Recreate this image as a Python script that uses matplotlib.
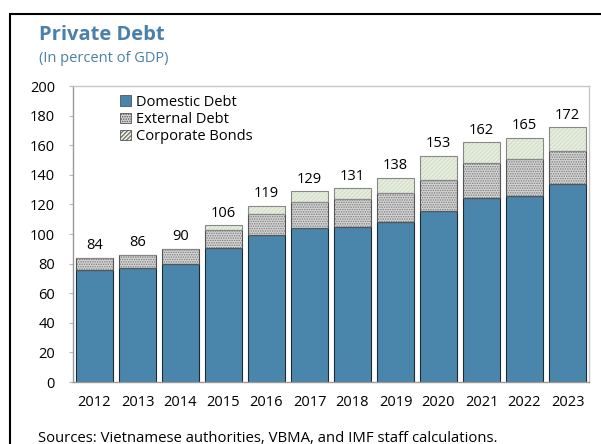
import numpy as np
import matplotlib.pyplot as plt
from matplotlib.patches import Rectangle

plt.rcParams['font.family'] = ['Open Sans', 'DejaVu Sans']
plt.rcParams['hatch.linewidth'] = 0.7

years = ['2012', '2013', '2014', '2015', '2016', '2017',
         '2018', '2019', '2020', '2021', '2022', '2023']
domestic = [75.7, 77.0, 80.0, 90.5, 99.3, 103.8, 105.0, 108.3, 115.5, 124.3, 125.7, 133.8]
external = [8.3, 9.0, 10.0, 12.2, 14.2, 18.0, 18.4, 19.6, 21.0, 23.7, 25.0, 22.2]
bonds = [0.0, 0.0, 0.0, 3.3, 5.5, 7.2, 7.6, 10.1, 16.5, 14.0, 14.3, 16.0]
totals = [84, 86, 90, 106, 119, 129, 131, 138, 153, 162, 165, 172]

blue = '#4a86ab'
title_blue = '#4a80aa'

fig = plt.figure(figsize=(6.01, 4.44), dpi=100)
ax = fig.add_axes([73 / 601, 1 - 382 / 444, 516 / 601, 296 / 444])

x = np.arange(len(years))
w = 0.84
dom = np.array(domestic)
ext = np.array(external)
bnd = np.array(bonds)

ax.bar(x, dom, w, color=blue, linewidth=0, label='Domestic Debt')
ax.bar(x, ext, w, bottom=dom, color='#d4d4d4', edgecolor='#7a7a7a',
       hatch='.......', linewidth=0, label='External Debt')
ax.bar(x, bnd, w, bottom=dom + ext, color='#e6eedd', edgecolor='#d2dbc8',
       hatch='////////', linewidth=0, label='Corporate Bonds')
# segment outlines
ax.bar(x, dom, w, fill=False, edgecolor='#1d2b36', linewidth=0.8)
ax.bar(x, ext, w, bottom=dom, fill=False, edgecolor='#555555', linewidth=0.8)
ax.bar(x, bnd, w, bottom=dom + ext, fill=False, edgecolor='#888888',
       linewidth=0.8)

for xi, t in zip(x, totals):
    ax.text(xi, t + 3, str(t), ha='center', va='bottom', fontsize=10.5)

ax.set_xlim(-0.5, len(years) - 0.5)
ax.set_ylim(0, 200)
ax.set_yticks(range(0, 201, 20))
ax.set_xticks(x)
ax.set_xticklabels(years)
ax.tick_params(axis='both', labelsize=10.5, color='#bbbbbb', length=3)
ax.tick_params(axis='x', length=0, pad=9)
ax.tick_params(axis='y', pad=10)
for s in ax.spines.values():
    s.set_color('#c8c8c8')
    s.set_linewidth(1.0)
ax.spines['left'].set_color('#999999')
ax.spines['bottom'].set_color('#999999')

leg = ax.legend(loc='upper left', bbox_to_anchor=(0.08, 0.99), frameon=False,
                fontsize=10.5, handlelength=0.75, handleheight=0.75,
                handletextpad=0.35, labelspacing=0.15, borderaxespad=0)
for h in leg.legend_handles:
    h.set_edgecolor('#555555')
    h.set_linewidth(0.6)

fig.text(39 / 601, 1 - 35 / 444, 'Private Debt', fontsize=14.5,
         fontweight='bold', color=title_blue, va='center')
fig.text(39 / 601, 1 - 59 / 444, '(In percent of GDP)', fontsize=10.5,
         color=title_blue, va='center')
fig.text(38 / 601, 1 - 438 / 444,
         'Sources: Vietnamese authorities, VBMA, and IMF staff calculations.',
         fontsize=10.7, va='center')

fig.patches.append(Rectangle((10 / 601, -0.1), 1.2, 1 - 14 / 444 + 0.1,
                             transform=fig.transFigure, fill=False,
                             edgecolor='black', linewidth=1.5))

fig.savefig('out.png', dpi=100)
